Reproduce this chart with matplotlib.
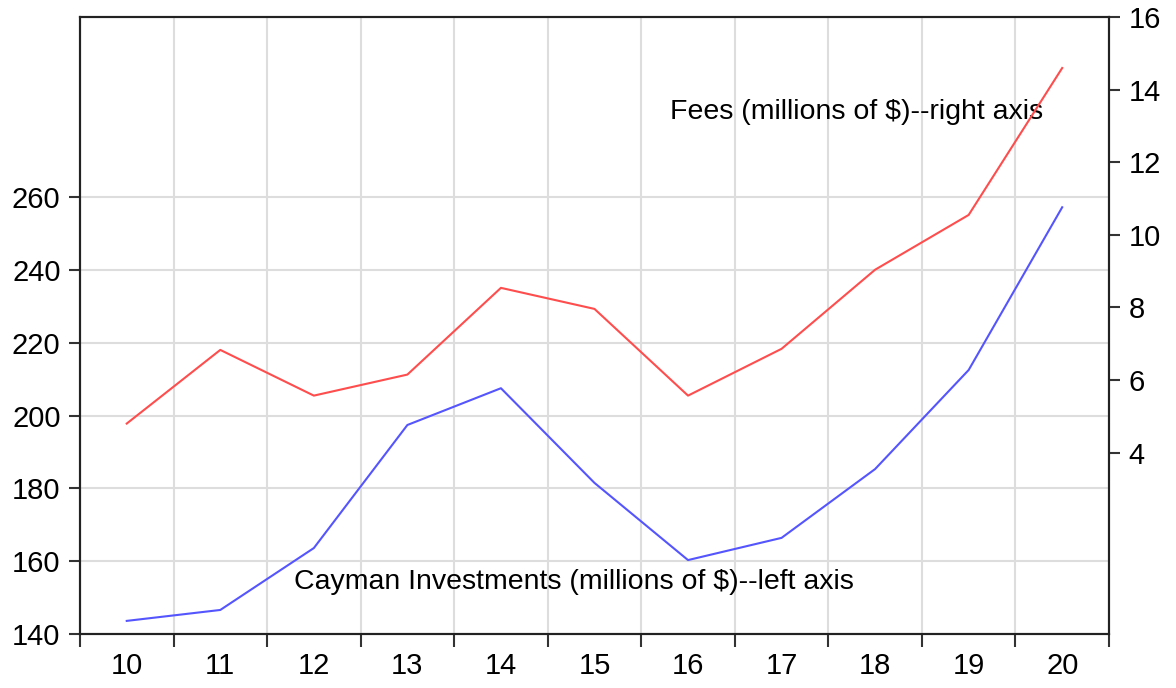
"""Cayman investments vs fees, two y axes."""

import matplotlib

matplotlib.use("Agg")
import matplotlib.pyplot as plt
import numpy as np

years = ["10", "11", "12", "13", "14", "15", "16", "17", "18", "19", "20"]
investments = [143.6, 146.6, 163.6, 197.4, 207.5, 181.5, 160.3, 166.4, 185.3, 212.5, 257.2]
fees = [4.80, 6.83, 5.57, 6.15, 8.54, 7.96, 5.57, 6.86, 9.04, 10.55, 14.60]

left_ticks = [140, 160, 180, 200, 220, 240, 260]
right_ticks = [4, 6, 8, 10, 12, 14, 16]

plt.rcParams["font.family"] = ["Liberation Sans", "DejaVu Sans"]

fig = plt.figure(figsize=(11.76, 6.88), dpi=100)
ax = fig.add_axes([0.068, 0.0785, 0.875, 0.8965])
ax2 = ax.twinx()

x = np.arange(len(years))
ax.plot(x, investments, color="#5555ff", lw=1.5, zorder=3)
ax2.plot(x, fees, color="#ff4d4d", lw=1.5, zorder=3)

ax.set_xlim(-0.5, len(years) - 0.5)
ax.set_ylim(140, 309.4)
ax2.set_ylim(-1, 16)

# category boundaries carry the ticks and grid, labels sit in the middle
ax.set_xticks(np.arange(-0.5, len(years)), labels=[])
ax.set_xticks(x, labels=years, minor=True)
ax.tick_params(axis="x", which="minor", length=0, labelsize=21, pad=13)
ax.tick_params(axis="x", which="major", length=9, width=1.5, color="#333333")

ax.set_yticks(left_ticks)
ax.tick_params(axis="y", length=8, width=1.5, labelsize=21, pad=6, color="#333333")
ax2.set_yticks(right_ticks)
ax2.tick_params(axis="y", length=8, width=1.5, labelsize=21, pad=6, color="#333333")

ax.grid(True, which="major", color="#dddddd", lw=1.5)
ax.set_axisbelow(True)

for a in (ax, ax2):
    for s in a.spines.values():
        s.set_linewidth(1.5)
        s.set_color("#222222")

ax.text(5.81, 283.3, "Fees (millions of $)--right axis", fontsize=20.5, va="center", ha="left")
ax.text(1.785, 154.3, "Cayman Investments (millions of $)--left axis", fontsize=20.5, va="center", ha="left")

fig.savefig("out.png", dpi=100)
